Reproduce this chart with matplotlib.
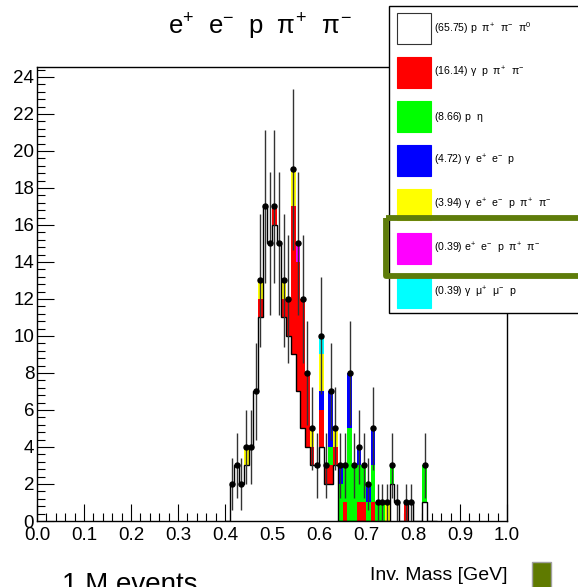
import numpy as np
import matplotlib
matplotlib.use("Agg")
import matplotlib.pyplot as plt
from matplotlib.patches import Rectangle
from matplotlib.ticker import MultipleLocator, FormatStrFormatter

plt.rcParams['font.family'] = ['Liberation Sans', 'DejaVu Sans']
plt.rcParams['mathtext.fontset'] = 'custom'
plt.rcParams['mathtext.rm'] = 'Liberation Sans'
plt.rcParams['mathtext.it'] = 'Liberation Sans'
plt.rcParams['mathtext.bf'] = 'Liberation Sans:bold'

# ---------------- data (bins of 0.01 GeV, starting at 0.40 GeV) ----------------
bin_start = 0.40
bin_width = 0.01
#               .40 .41 .42 .43 .44 .45 .46 .47 .48 .49 .50 .51 .52 .53 .54 .55 .56 .57 .58 .59 .60 .61 .62 .63 .64 .65 .66 .67 .68 .69 .70 .71 .72 .73 .74 .75 .76 .77 .78 .79 .80 .81 .82 .83 .84
p_pip_pim_pi0 = [0, 2, 3, 2, 3, 4, 7, 11, 17, 15, 16, 15, 11, 10, 9, 7, 5, 4, 3, 3, 4, 2, 2, 3, 0, 0, 0, 0, 0, 0, 0, 0, 0, 0, 0, 2, 1, 0, 0, 1, 0, 0, 1, 0, 0]
g_p_pip_pim   = [0, 0, 0, 0, 0, 0, 0, 1, 0, 0, 1, 0, 1, 2, 8, 7, 7, 4, 1, 0, 2, 1, 1, 1, 0, 1, 0, 0, 1, 1, 0, 1, 0, 0, 0, 0, 0, 0, 1, 0, 0, 0, 0, 0, 0]
p_eta         = [0, 0, 0, 0, 0, 0, 0, 0, 0, 0, 0, 0, 0, 0, 0, 0, 0, 0, 0, 0, 0, 0, 1, 0, 2, 2, 5, 3, 2, 2, 1, 2, 1, 1, 0, 1, 0, 0, 0, 0, 0, 0, 2, 0, 0]
g_ep_em_p     = [0, 0, 0, 0, 0, 0, 0, 0, 0, 0, 0, 0, 0, 0, 0, 0, 0, 0, 0, 0, 1, 0, 3, 0, 1, 0, 3, 0, 1, 0, 1, 2, 0, 0, 0, 0, 0, 0, 0, 0, 0, 0, 0, 0, 0]
g_ep_em_p_pp  = [0, 0, 0, 0, 1, 0, 0, 1, 0, 0, 0, 0, 1, 0, 2, 0, 0, 0, 1, 0, 2, 0, 0, 1, 0, 0, 0, 0, 0, 0, 0, 0, 0, 0, 1, 0, 0, 0, 0, 0, 0, 0, 0, 0, 0]
ep_em_p_pp    = [0, 0, 0, 0, 0, 0, 0, 0, 0, 0, 0, 0, 0, 0, 0, 1, 0, 0, 0, 0, 0, 0, 0, 0, 0, 0, 0, 0, 0, 0, 0, 0, 0, 0, 0, 0, 0, 0, 0, 0, 0, 0, 0, 0, 0]
g_mup_mum_p   = [0, 0, 0, 0, 0, 0, 0, 0, 0, 0, 0, 0, 0, 0, 0, 0, 0, 0, 0, 0, 1, 0, 0, 0, 0, 0, 0, 0, 0, 0, 0, 0, 0, 0, 0, 0, 0, 0, 0, 0, 0, 0, 0, 0, 0]

labels = [
    r'(65.75) p  $\pi^{+}$  $\pi^{-}$  $\pi^{0}$',
    r'(16.14) $\gamma$  p  $\pi^{+}$  $\pi^{-}$',
    r'(8.66) p  $\eta$',
    r'(4.72) $\gamma$  e$^{+}$  e$^{-}$  p',
    r'(3.94) $\gamma$  e$^{+}$  e$^{-}$  p  $\pi^{+}$  $\pi^{-}$',
    r'(0.39) e$^{+}$  e$^{-}$  p  $\pi^{+}$  $\pi^{-}$',
    r'(0.39) $\gamma$  $\mu^{+}$  $\mu^{-}$  p',
]
colors = ['#ffffff', '#ff0000', '#00ff00', '#0000ff', '#ffff00', '#ff00ff', '#00ffff']
title = r'e$^{+}$  e$^{-}$  p  $\pi^{+}$  $\pi^{-}$'
x_label = 'Inv. Mass [GeV]'
note = '1 M events'

series = [p_pip_pim_pi0, g_p_pip_pim, p_eta, g_ep_em_p, g_ep_em_p_pp, ep_em_p_pp, g_mup_mum_p]

# ---------------- figure ----------------
W, H = 578, 587
fig = plt.figure(figsize=(W / 100, H / 100), dpi=100)
ax = fig.add_axes([37 / W, 1 - 521 / H, 470 / W, 454 / H])

nb = len(p_pip_pim_pi0)
edges = bin_start + bin_width * np.arange(nb + 1)
lefts = edges[:-1]
centers = lefts + bin_width / 2

bottom = np.zeros(nb)
for vals, col in zip(series, colors):
    v = np.array(vals, dtype=float)
    ax.bar(lefts, v, width=bin_width, bottom=bottom, align='edge', color=col,
           linewidth=0, zorder=2)
    bottom += v

# outline of the bottom (white) histogram
ax.stairs(np.array(p_pip_pim_pi0, dtype=float), edges, color='black', lw=1, zorder=3)

total = bottom
mask = total > 0
err = np.sqrt(total[mask])
ax.errorbar(centers[mask], total[mask], yerr=err, fmt='o', color='black',
            ecolor='#333333', elinewidth=1, markersize=3.6, capsize=0, zorder=4)

ax.set_xlim(0, 1)
ax.set_ylim(0, 24.54)
ax.xaxis.set_major_locator(MultipleLocator(0.1))
ax.xaxis.set_minor_locator(MultipleLocator(0.02))
ax.xaxis.set_major_formatter(FormatStrFormatter('%.1f'))
ax.yaxis.set_major_locator(MultipleLocator(2))
ax.yaxis.set_minor_locator(MultipleLocator(0.4))
ax.tick_params(which='major', direction='in', length=12, width=0.8, labelsize=13.5,
               top=False, right=False)
ax.tick_params(which='minor', direction='in', length=6, width=0.8, top=False, right=False)
ax.tick_params(axis='x', pad=4)
ax.tick_params(axis='y', pad=2)
for s in ax.spines.values():
    s.set_linewidth(1)

# ---------------- overlay (pixel coordinates) ----------------
lax = fig.add_axes([0, 0, 1, 1])
lax.set_xlim(0, W)
lax.set_ylim(H, 0)
lax.axis('off')
lax.patch.set_visible(False)
lax.set_zorder(5)

lax.text(260, 27, title, fontsize=18.5, ha='center', va='center')

lax.add_patch(Rectangle((389, 6), 200, 307, facecolor='white', edgecolor='black', lw=1))
for i, (lab, col) in enumerate(zip(labels, colors)):
    yc = 28.5 + 44 * i
    lax.add_patch(Rectangle((397, yc - 15.5), 34, 31, facecolor=col,
                            edgecolor='#333333' if col == '#ffffff' else col, lw=0.8))
    lax.text(434, yc, lab, fontsize=7.6, ha='left', va='center')

lax.add_patch(Rectangle((385.5, 218), 200, 57.5, facecolor='none', edgecolor='#5e7c0a',
                        lw=4.2, joinstyle='round'))

lax.text(508, 580, x_label, fontsize=14, ha='right', va='baseline')
lax.text(62, 592, note, fontsize=20, ha='left', va='baseline')
lax.add_patch(Rectangle((532, 562), 19, 28, facecolor='#5f7a00', edgecolor='#a0a0a0', lw=1))

fig.savefig('out.png', dpi=100)
